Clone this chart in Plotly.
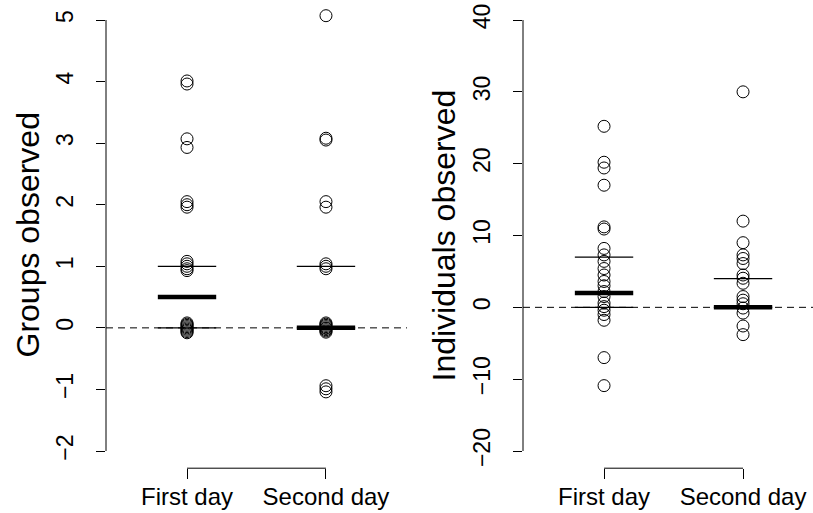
import plotly.graph_objects as go

# ---------------- data ----------------
categories = ["First day", "Second day"]

groups_first = [4.01, 3.96, 3.07, 2.93, 2.05, 2.00, 1.96,
                1.08, 1.04, 1.00, 0.96, 0.93,
                0.08, 0.06, 0.04, 0.02, 0.00, -0.02, -0.04, -0.06, -0.08]
groups_second = [5.07, 3.08, 3.05, 2.05, 1.96,
                 1.04, 1.00, 0.96,
                 0.08, 0.06, 0.04, 0.02, 0.00, -0.01, -0.03, -0.05, -0.07,
                 -0.94, -0.99, -1.04]

indiv_first = [25.2, 20.2, 19.4, 17.0, 11.2, 10.9,
               8.2, 7.3, 6.4, 5.4, 4.5, 3.6, 3.0, 2.2, 1.5, 0.6, 0.1, -0.4, -1.0, -1.8,
               -7.0, -10.9]
indiv_second = [30.0, 12.0, 9.0, 7.3, 6.8, 6.1, 4.5, 4.05, 3.35, 1.5, 1.0, 0.5,
                -0.1, -0.8, -2.6, -3.8]

# summary lines per group: lower, median, upper
groups_lower = [0, 0]
groups_median = [0.5, 0]
groups_upper = [1, 1]
indiv_lower = [0, 0]
indiv_median = [2, 0]
indiv_upper = [7, 4]

groups_ticks = [-2, -1, 0, 1, 2, 3, 4, 5]
indiv_ticks = [-20, -10, 0, 10, 20, 30, 40]

# ---------------- layout constants ----------------
W, H = 813, 513
FONT = "Liberation Sans, Arial, Helvetica, sans-serif"
HALF = 0.21

fig = go.Figure()


def add_panel(fig, xa, ya, first, second, lower, median, upper):
    for i, vals in enumerate([first, second]):
        fig.add_trace(go.Scatter(
            x=[i + 1] * len(vals), y=vals, mode="markers", xaxis=xa, yaxis=ya,
            marker=dict(symbol="circle-open", size=12, color="black",
                        line=dict(width=1)),
            showlegend=False, hoverinfo="y"))
    # thin lines (lower / upper)
    xs, ys = [], []
    for i in range(2):
        for v in (lower[i], upper[i]):
            xs += [i + 1 - HALF, i + 1 + HALF, None]
            ys += [v, v, None]
    fig.add_trace(go.Scatter(x=xs, y=ys, mode="lines", xaxis=xa, yaxis=ya,
                             line=dict(color="black", width=1.3),
                             showlegend=False, hoverinfo="skip"))
    xs, ys = [], []
    for i in range(2):
        xs += [i + 1 - HALF, i + 1 + HALF, None]
        ys += [median[i], median[i], None]
    fig.add_trace(go.Scatter(x=xs, y=ys, mode="lines", xaxis=xa, yaxis=ya,
                             line=dict(color="black", width=4.5),
                             showlegend=False, hoverinfo="skip"))


add_panel(fig, "x", "y", groups_first, groups_second,
          groups_lower, groups_median, groups_upper)
add_panel(fig, "x2", "y2", indiv_first, indiv_second,
          indiv_lower, indiv_median, indiv_upper)

ydom = [44.8 / H, 1 - 2.8 / H]

axis_common = dict(showgrid=False, zeroline=False, showline=False,
                   ticks="outside", tickcolor="black", tickwidth=1,
                   automargin=False)
xfont = dict(family=FONT, size=24, color="black")
yfont = dict(family=FONT, size=23, color="black")

gpu = (451 - 20) / 7.0
ipu = (451 - 20) / 60.0
fig.update_layout(
    width=W, height=H,
    margin=dict(l=0, r=0, t=0, b=0),
    paper_bgcolor="white", plot_bgcolor="white",
    font=dict(family=FONT, color="black"),
    xaxis=dict(domain=[106 / W, 407 / W], range=[0.417, 2.583], anchor="y",
               tickvals=[1, 2], ticktext=categories, ticklen=10,
               ticklabelstandoff=-3, tickfont=xfont, **axis_common),
    yaxis=dict(domain=ydom, anchor="x",
               range=[-2 - 17.2 / gpu, 5 + 17.2 / gpu],
               tickvals=groups_ticks, ticklen=9, tickangle=-90,
               ticklabelstandoff=14, tickfont=yfont, **axis_common),
    xaxis2=dict(domain=[523 / W, 1.0], range=[0.417, 0.417 + (813 - 523) / 139.0],
                anchor="y2", tickvals=[1, 2], ticktext=categories, ticklen=10,
                ticklabelstandoff=-3, tickfont=xfont, **axis_common),
    yaxis2=dict(domain=ydom, anchor="x2",
                range=[-20 - 17.2 / ipu, 40 + 17.2 / ipu],
                tickvals=indiv_ticks, ticklen=9, tickangle=-90,
                ticklabelstandoff=14, tickfont=yfont, **axis_common),
)

shapes = []
for xa, ya, ticks in (("x", "y", groups_ticks), ("x2", "y2", indiv_ticks)):
    # R-style y axis line spanning first to last tick
    shapes.append(dict(type="line", xref=f"{xa} domain", yref=ya,
                       x0=0, x1=0, y0=ticks[0], y1=ticks[-1],
                       line=dict(color="black", width=1)))
    # R-style x axis bracket
    shapes.append(dict(type="line", xref=xa, yref=f"{ya} domain",
                       x0=1, x1=2, y0=0, y1=0,
                       line=dict(color="black", width=1)))
    # dashed zero line
    shapes.append(dict(type="line", xref=f"{xa} domain", yref=ya,
                       x0=0, x1=1, y0=0, y1=0, layer="below",
                       line=dict(color="black", width=1, dash="7px,5px")))
fig.update_layout(shapes=shapes)

yc = (ydom[0] + ydom[1]) / 2
fig.add_annotation(text="Groups observed", xref="paper", yref="paper",
                   x=28 / W, y=yc, xanchor="center", yanchor="middle",
                   textangle=-90, showarrow=False,
                   font=dict(family=FONT, size=32, color="black"))
fig.add_annotation(text="Individuals observed", xref="paper", yref="paper",
                   x=444 / W, y=yc, xanchor="center", yanchor="middle",
                   textangle=-90, showarrow=False,
                   font=dict(family=FONT, size=32, color="black"))

fig.write_html("out.html", config={"displayModeBar": False},
               post_script="document.body.style.margin='0px';"
                           "document.body.style.overflow='hidden';")
